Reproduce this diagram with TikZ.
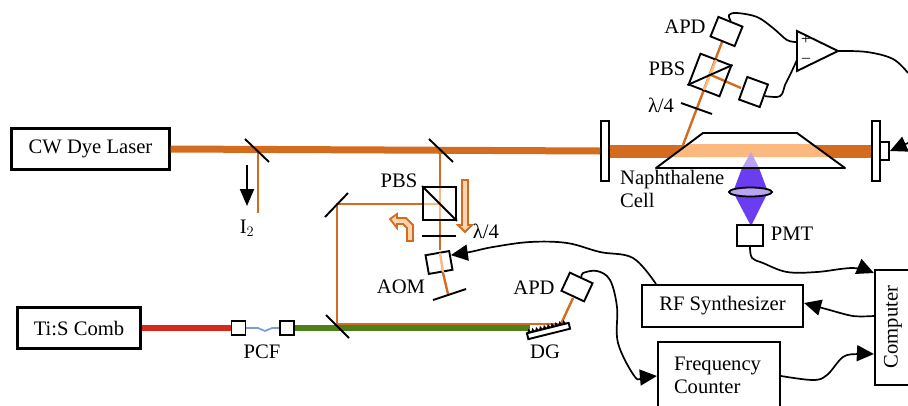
\documentclass[tikz,border=0pt]{standalone}
\usepackage{fontspec}
\setmainfont{Liberation Serif}
\usepackage{tikz}
\usetikzlibrary{arrows.meta,positioning,calc,shapes.geometric}
\definecolor{dyeorange}{HTML}{D46C20}
\definecolor{lightorange}{HTML}{FBB97F}
\definecolor{combred}{HTML}{D42A1C}
\definecolor{combgreen}{HTML}{4F7F18}
\definecolor{fiberblue}{HTML}{7C9BD8}
\definecolor{pmtviolet}{HTML}{6A3DF0}
\definecolor{paleviolet}{HTML}{B9A3F2}
\tikzset{
  instbox/.style={draw=black, line width=2.2pt, fill=white, align=left, inner sep=0pt, font=\fontsize{20.6}{23}\selectfont},
  optic/.style={draw=black, line width=1.9pt, fill=white, inner sep=0pt},
  mirror/.style={black, line width=1.9pt},
  beam/.style={dyeorange, line width=2.4pt},
  palebeam/.style={lightorange, line width=2.4pt},
  hollow/.style={draw=dyeorange, line width=1.8pt, fill=lightorange!60!white, line join=miter},
  lbl/.style={font=\fontsize{20.6}{23}\selectfont, inner sep=0pt, align=left},
  wire/.style={black, line width=1.7pt, line join=round},
  sig/.style={wire, -{Triangle[length=17pt,width=16pt]}}
}
\begin{document}
\begin{tikzpicture}[x=1pt,y=-1pt]
  \useasboundingbox (0,0) rectangle (908,405);

  % beam junctions
  \coordinate (isplit) at (258,150);
  \coordinate (aomsplit) at (440,150);
  \coordinate (foldtop) at (337,204);
  \coordinate (foldbot) at (337,324);
  \coordinate (retro) at (448,294);
  \coordinate (cellpick) at (683,145);
  \coordinate (gratehit) at (561,324);

  % instruments
  \node[instbox, minimum width=158pt, minimum height=41pt, align=center] (dye) at (90.5,149) {CW Dye Laser};
  \node[instbox, minimum width=123pt, minimum height=41pt, align=center] (comb) at (79,328) {Ti:S Comb};
  \node[instbox, minimum width=161pt, minimum height=42pt, align=center] (synth) at (722.5,306) {RF Synthesizer};
  \node[instbox, minimum width=122pt, minimum height=66pt, text width=90pt] (counter) at (719,375) {Frequency\\Counter};
  \node[instbox, minimum width=44pt, minimum height=115pt] (comp) at (897,327.5) {};
  \node[lbl, rotate=90] (complbl) at (893,327) {Computer};

  % cavity mirrors
  \node[optic, minimum width=8pt, minimum height=60pt] (cavl) at (605,151) {};
  \node[optic, minimum width=8pt, minimum height=60pt] (cavr) at (876,151) {};
  \node[optic, minimum width=9pt, minimum height=18pt] (pzt) at (884.5,151) {};

  % beams
  \draw[dyeorange, line width=7pt] (dye.east) -- (cavl.west);
  \draw[dyeorange, line width=13pt] (cavl.east) -- (cavr.west);
  \draw[beam] (isplit) -- (258,213);
  \draw[combred, line width=6.5pt] (comb.east) -- (231,328);
  \draw[combgreen, line width=6pt] (294,328) -- (530,328);
  \draw[beam, line width=2.6pt] (foldbot) -- (gratehit);
  \draw[beam] (foldbot) -- (foldtop) -- (440,204);
  \draw[beam] (aomsplit) -- (440,250);
  \draw[beam] (443,273) -- (retro);
  \draw[beam] (gratehit) -- (573,298);
  \draw[beam] (cellpick) -- (722,42);
  \draw[beam] (711,75) -- (741,88);
  \draw[fiberblue, line width=1.7pt] (246,328) -- (258,328) to[out=0,in=180] (265,331) to[out=0,in=180] (272,328) -- (280,328);

  % naphthalene cell
  \fill[white] (656,168) -- (703,133) -- (797,133) -- (845,168) -- cycle;
  \fill[lightorange] (688,144) -- (812,144) -- (830,157) -- (671,157) -- cycle;
  \fill[paleviolet] (751,152) -- (759,168) -- (742,168) -- cycle;
  \fill[pmtviolet] (742,168) -- (759,168) -- (768,192) -- (751,226) -- (733,192) -- cycle;
  \draw[black, line width=1.9pt, line join=round] (656,168) -- (703,133) -- (797,133) -- (845,168) -- cycle;
  \node[draw=black, line width=1.8pt, fill=paleviolet, ellipse, minimum width=43pt, minimum height=9pt, inner sep=0pt] (lens) at (750.5,192) {};
  \node[lbl, anchor=north west] (celllbl) at (620,170) {Naphthalene\\Cell};

  % detection arm
  \node[optic, minimum width=26pt, minimum height=21pt, rotate=-22] (apdtop) at (726.5,31.5) {};
  \node[optic, fill=none, minimum width=33pt, minimum height=33pt, rotate=-21] (pbstop) at (710,75) {};
  \draw[palebeam] (716,60) -- (704,90);
  \draw[mirror] (pbstop.south west) -- (pbstop.north east);
  \node[optic, minimum width=22pt, minimum height=24pt, rotate=-20] (apdlow) at (753.5,92) {};
  \draw[mirror] (681,103) -- (712,114);
  \node[lbl] (apdtoplbl) at (685,27) {APD};
  \node[lbl] (pbstoplbl) at (667,69) {PBS};
  \node[lbl] (qwtoplbl) at (661,105) {λ/4};

  % balanced amplifier
  \draw[black, line width=1.9pt, fill=white] (797,31) -- (838,51) -- (797,71) -- cycle;
  \node[font=\fontsize{17}{17}\selectfont, inner sep=0pt] (plus) at (806,40) {+};
  \node[font=\fontsize{16}{16}\selectfont, inner sep=0pt] (minus) at (806,60) {--};
  \coordinate (ampin) at (797,42);
  \coordinate (ampout) at (838,51);
  \coordinate (ampneg) at (797,60);
  \draw[wire] plot[smooth, tension=0.6] coordinates {(apdtop.north) (729,15) (737,13) (757,17) (773,28) (787,40) (ampin)};
  \draw[wire] plot[smooth, tension=0.6] coordinates {(apdlow.east) (777,97) (782,94) (785,85) (790,75) (ampneg)};
  \draw[wire] plot[smooth, tension=0.6] coordinates {(ampout) (867,52) (893,59) (908,73)};

  % AOM double pass
  \node[optic, fill=none, minimum width=33pt, minimum height=33pt] (pbsaom) at (439.5,203.5) {};
  \draw[palebeam] (424,204) -- (440,204);
  \draw[palebeam] (440,188) -- (440,219);
  \draw[mirror] (pbsaom.north west) -- (pbsaom.south east);
  \node[optic, minimum width=24pt, minimum height=19pt, rotate=10] (aom) at (439,262.5) {};
  \draw[palebeam] (440,253) -- (443,272);
  \draw[mirror] (429,139) -- (453,162);
  \draw[mirror] (245,139) -- (269,162);
  \draw[mirror] (325,217) -- (348,193);
  \draw[mirror] (326,315) -- (349,338);
  \draw[mirror] (422,236) -- (456,236);
  \draw[mirror] (433,300) -- (466,289);
  \draw[hollow] (462,180) -- (468,180) -- (468,225) -- (472,225) -- (465,232) -- (458,225) -- (462,225) -- cycle;
  \draw[hollow] (413,241) -- (407,241) -- (407,228) -- (403,224) -- (397,224) -- (397,228) -- (390,219) -- (397,214) -- (397,218) -- (406,218) -- (413,225) -- cycle;
  \node[lbl] (pbsaomlbl) at (399,181) {PBS};
  \node[lbl] (qwaomlbl) at (486,231) {λ/4};
  \node[lbl] (aomlbl) at (401,287) {AOM};

  % iodine arrow
  \draw[black, line width=2pt, -{Triangle[length=17pt,width=14pt]}] (247,165) -- (247,206);
  \node[lbl] (iodine) at (247,228) {I$_2$};

  % fiber couplers
  \node[optic, minimum width=14pt, minimum height=14pt] (pcfa) at (238.5,328) {};
  \node[optic, minimum width=14pt, minimum height=14pt] (pcfb) at (287,328) {};
  \node[lbl] (pcflbl) at (262,352) {PCF};

  % grating
  \node[optic, minimum width=43pt, minimum height=6pt, rotate=14] (grating) at (548.5,331) {};
  \begin{scope}[shift={(548.5,331)}, rotate=14]
    \foreach \t in {-19,-15,...,19}
      \fill[black] (\t-2,-3) -- (\t,-7) -- (\t+2,-3) -- cycle;
  \end{scope}
  \node[lbl] (dglbl) at (545,352) {DG};
  \node[optic, minimum width=25pt, minimum height=20pt, rotate=-25] (apddg) at (577,287) {};
  \node[lbl] (apddglbl) at (534,288) {APD};

  % PMT
  \node[optic, minimum width=26pt, minimum height=21pt] (pmt) at (750,235.5) {};
  \node[lbl] (pmtlbl) at (792,234) {PMT};

  % signal wires
  \coordinate (pzttail) at (908,143);
  \draw[sig] (pzttail) -- (pzt.east);
  \draw[sig] plot[smooth, tension=0.6] coordinates {(pmt.south) (752,258) (763,263) (787,272) (817,272) (853,268) (comp.west |- 0,273)};
  \draw[sig] plot[smooth, tension=0.5] coordinates {(comp.west |- 0,316) (853,316) (826,309) (synth.east |- 0,303)};
  \draw[sig] plot[smooth, tension=0.6] coordinates {(counter.east |- 0,376) (813,380) (827,375) (843,357) (858,354) (comp.west |- 0,354)};
  \draw[sig] plot[smooth, tension=0.6] coordinates {(apddg.north) (583,273) (597,271) (610,280) (617,307) (618,343) (635,377) (644,377) (counter.west |- 0,376)};
  \draw[sig] plot[smooth, tension=0.6] coordinates {(656,284) (633,258) (600,252) (567,243) (530,242) (493,247) (470,252) ($(aom.east)!0.5!(aom.north east)$)};
\end{tikzpicture}
\end{document}
